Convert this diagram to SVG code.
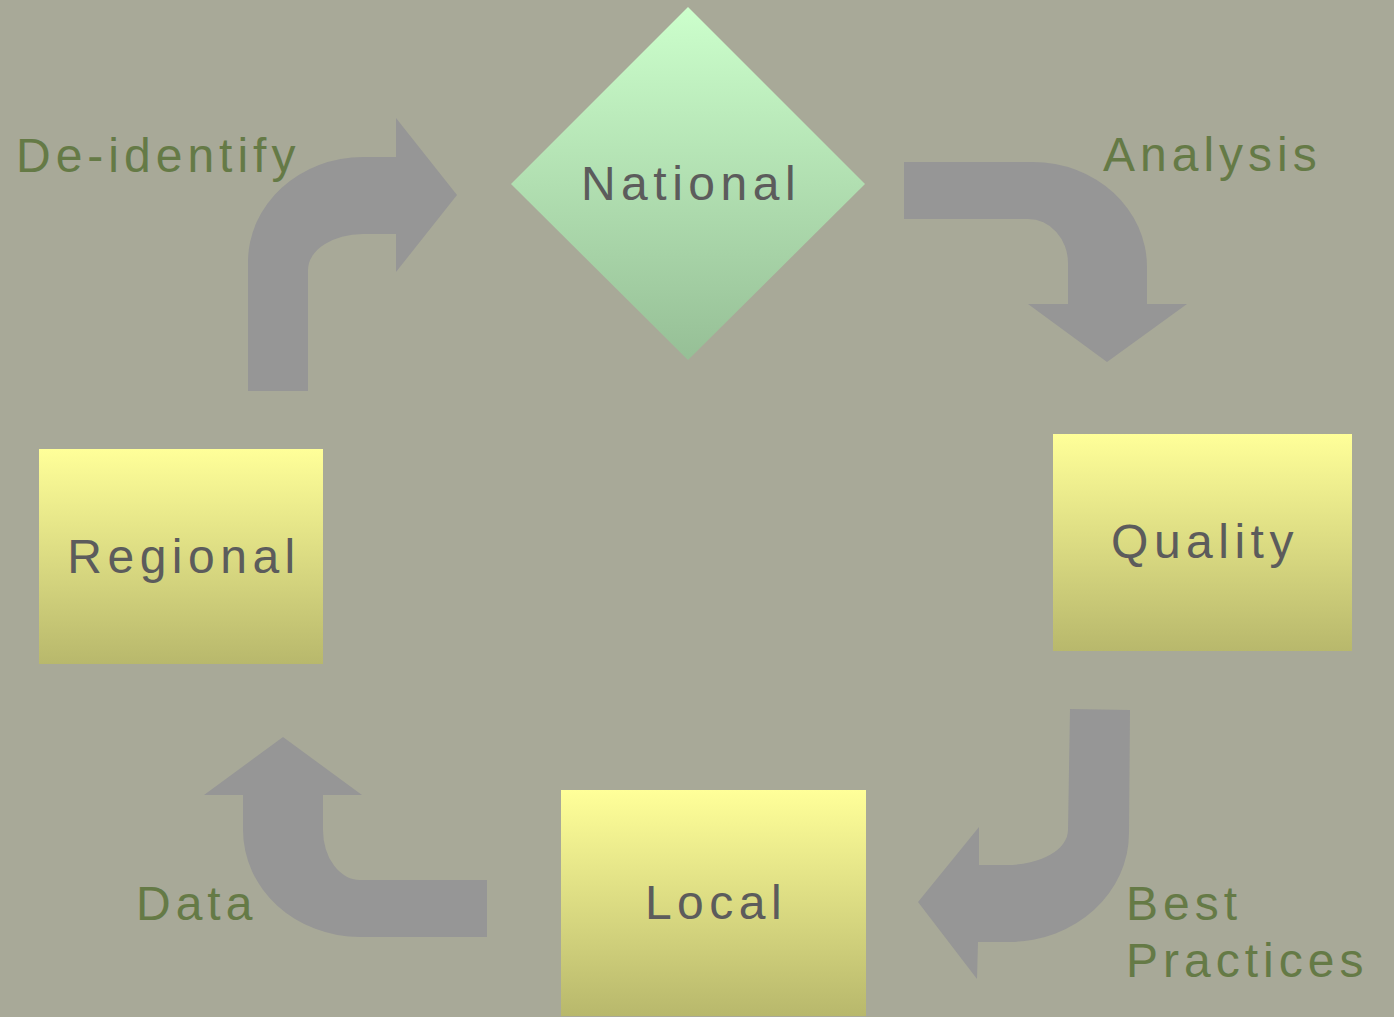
<svg xmlns="http://www.w3.org/2000/svg" width="1394" height="1017" viewBox="0 0 1394 1017">
<defs>
<linearGradient id="gy" x1="0" y1="0" x2="0" y2="1"><stop offset="0" stop-color="#ffff99"/><stop offset="1" stop-color="#b8b86c"/></linearGradient>
<linearGradient id="gg" x1="0" y1="0" x2="0" y2="1"><stop offset="0" stop-color="#ccffcc"/><stop offset="1" stop-color="#96bf96"/></linearGradient>
<style>
.lbl{font-family:"Liberation Sans",Arial,sans-serif;font-size:48px;fill:#657a46;letter-spacing:5px}
.nt{font-family:"Liberation Sans",Arial,sans-serif;font-size:48px;fill:#5c5c5c;letter-spacing:5.5px;text-anchor:middle}
.arr{fill:#969696}
</style>
</defs>
<rect width="1394" height="1017" fill="#a8a998"/>
<g id="connectors">
<path class="arr" d="M248,391 L248,262 A115,105 0 0 1 363,157 L396,157 L396,118 L457,195 L396,272 L396,234 L363,234 A55,36 0 0 0 308,270 L308,391 Z"/>
<path class="arr" d="M904,162 L1033,162 A114,105 0 0 1 1147,267 L1147,304 L1187,304 L1107,362 L1028,304 L1068,304 L1068,263 A40,44 0 0 0 1028,219 L904,219 Z"/>
<path class="arr" d="M1070,709 L1130,710 L1129,833 A120,109 0 0 1 1010,942 L978,942 L977,979 L918,902 L979,827 L979,865 L1007,865 A61,35 0 0 0 1068,830 Z"/>
<path class="arr" d="M487,880 L487,937 L360,937 A117,107 0 0 1 243,830 L243,795 L204,795 L283,737 L362,795 L323,795 L323,830 A37,50 0 0 0 360,880 Z"/>
<text class="lbl" x="16" y="172">De-identify</text>
<text class="lbl" x="1103" y="171">Analysis</text>
<text class="lbl" x="1126" y="920">Best</text>
<text class="lbl" x="1126" y="977">Practices</text>
<text class="lbl" x="136" y="920">Data</text>
</g>
<g id="national">
<polygon points="688,7 865,184 688,360 511,184" fill="url(#gg)"/>
<text class="nt" x="691" y="200">National</text>
</g>
<g id="regional">
<rect x="39" y="449" width="284" height="215" fill="url(#gy)"/>
<text class="nt" x="184" y="573">Regional</text>
</g>
<g id="quality">
<rect x="1053" y="434" width="299" height="217" fill="url(#gy)"/>
<text class="nt" x="1205" y="558">Quality</text>
</g>
<g id="local">
<rect x="561" y="790" width="305" height="226" fill="url(#gy)"/>
<text class="nt" x="716" y="919">Local</text>
</g>
</svg>
